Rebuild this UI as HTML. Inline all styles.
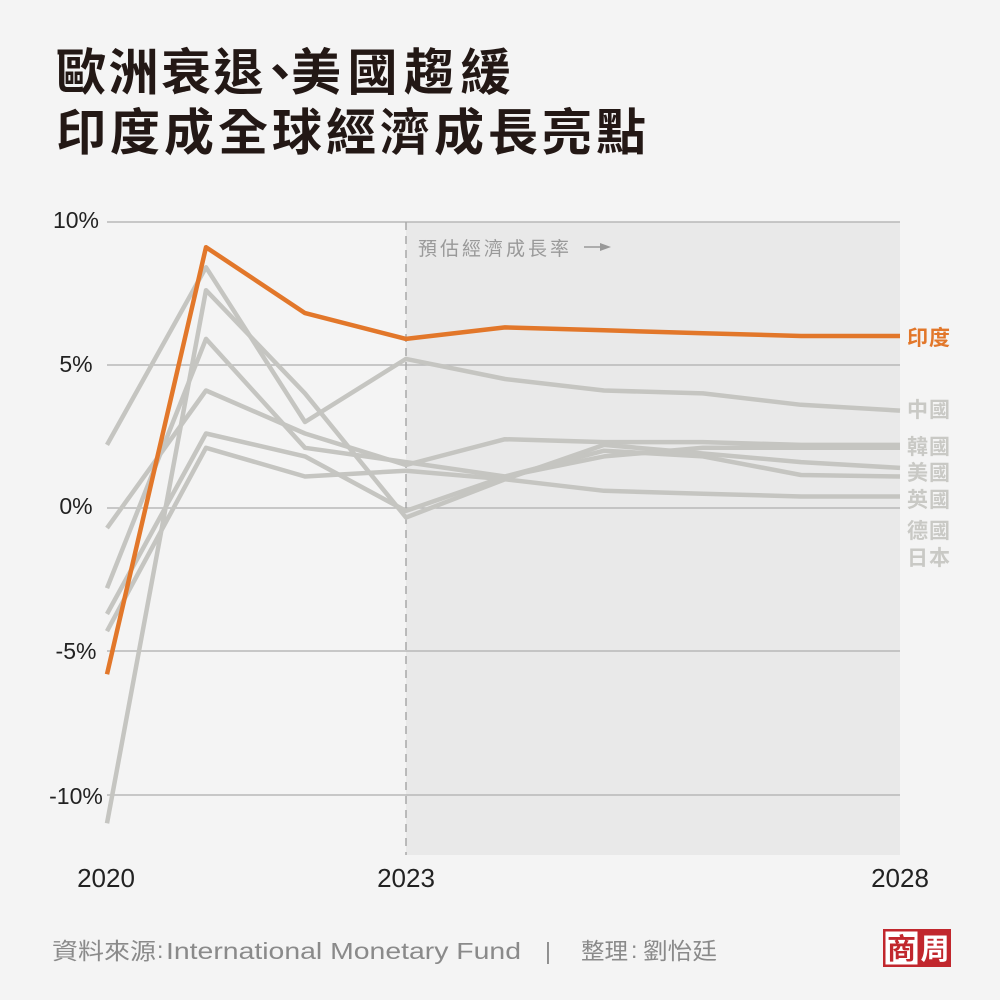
<!DOCTYPE html>
<html><head><meta charset="utf-8"><style>
html,body{margin:0;padding:0;background:#f4f4f4;}
svg{display:block;}
</style></head><body>
<svg width="1000" height="1000" viewBox="0 0 1000 1000" xmlns="http://www.w3.org/2000/svg">
<rect width="1000" height="1000" fill="#f4f4f4"/>
<g font-family="'Liberation Sans','Noto Sans CJK TC',sans-serif" font-weight="bold" font-size="50" fill="#231815">
<text x="56" y="90" letter-spacing="2.5">歐洲衰退</text>
<text x="255" y="90">、</text>
<text x="291" y="90" letter-spacing="6.5">美國趨緩</text>
<text x="56" y="150" letter-spacing="4">印度成全球經濟成長亮點</text>
</g>
<rect x="406" y="222" width="494" height="633" fill="#e9e9e9"/>
<g stroke="#b8b8b8" stroke-width="1.5">
<line x1="107" y1="222" x2="900" y2="222"/>
<line x1="107" y1="365" x2="900" y2="365"/>
<line x1="107" y1="508" x2="900" y2="508"/>
<line x1="107" y1="651" x2="900" y2="651"/>
<line x1="107" y1="795" x2="900" y2="795"/>
</g>
<line x1="406" y1="222" x2="406" y2="855" stroke="#a8a8a8" stroke-width="1.5" stroke-dasharray="8 6"/>
<g font-family="'Liberation Sans',sans-serif" font-size="23" fill="#222" text-anchor="middle">
<text x="76" y="228">10%</text>
<text x="76" y="372">5%</text>
<text x="76" y="514">0%</text>
<text x="76" y="659">-5%</text>
<text x="76" y="804">-10%</text>
</g>
<text x="418" y="255" font-family="'Liberation Sans','Noto Sans CJK TC',sans-serif" font-size="19" fill="#999999" letter-spacing="3">預估經濟成長率</text>
<line x1="584" y1="247" x2="602" y2="247" stroke="#999999" stroke-width="1.5"/>
<polygon points="600,243 611,247 600,251" fill="#999999"/>
<g fill="none" stroke="#c5c5c1" stroke-width="4.5" stroke-linejoin="round">
<polyline points="107,444.9 206,267.3 305,422 406,358.9 505,379 604,390.5 703,393.4 801,404.8 900,410.6"/>
<polyline points="107,528.1 206,390.5 305,433.5 406,465 505,439.2 604,442.1 703,442.1 801,444.9 900,444.9"/>
<polyline points="107,588.2 206,338.9 305,447.8 406,462.1 505,476.5 604,456.4 703,447.8 801,447.8 900,447.8"/>
<polyline points="107,823.3 206,290.2 305,393.4 406,517.5 505,479.3 604,444.9 703,453.5 801,462.1 900,467.9"/>
<polyline points="107,614 206,433.5 305,456.4 406,510.9 505,476.5 604,450.7 703,456.4 801,475 900,476.5"/>
<polyline points="107,631.2 206,447.8 305,476.5 406,470.7 505,479.3 604,490.8 703,493.7 801,496.5 900,496.5"/>
</g>
<polyline points="107,674.2 206,247.2 305,313.1 406,338.9 505,327.4 604,330.3 703,333.2 801,336 900,336" fill="none" stroke="#e2772a" stroke-width="4.5" stroke-linejoin="round"/>
<g font-family="'Liberation Sans','Noto Sans CJK TC',sans-serif" font-size="21" font-weight="bold" letter-spacing="1">
<text x="907" y="345" fill="#e2772a">印度</text>
<g fill="#c9c9c5">
<text x="907" y="417">中國</text>
<text x="907" y="454">韓國</text>
<text x="907" y="480">美國</text>
<text x="907" y="507">英國</text>
<text x="907" y="538">德國</text>
<text x="907" y="565">日本</text>
</g>
</g>
<g font-family="'Liberation Sans',sans-serif" font-size="26" fill="#222" text-anchor="middle">
<text x="106" y="887">2020</text>
<text x="406" y="887">2023</text>
<text x="900" y="887">2028</text>
</g>
<g font-family="'Liberation Sans','Noto Sans CJK TC',sans-serif" font-size="23" fill="#8a8a8a">
<text x="52" y="959" textLength="104" lengthAdjust="spacingAndGlyphs">資料來源</text>
<text x="157" y="958">:</text>
<text x="166" y="959" textLength="355" lengthAdjust="spacingAndGlyphs">International Monetary Fund</text>
<text x="545" y="959">|</text>
<text x="581" y="959" textLength="47" lengthAdjust="spacingAndGlyphs">整理</text>
<text x="631" y="958">:</text>
<text x="643" y="959" textLength="74" lengthAdjust="spacingAndGlyphs">劉怡廷</text>
</g>
<rect x="883" y="929" width="68" height="38" fill="#c1272d"/>
<rect x="885.5" y="931.5" width="32" height="33" fill="#ffffff"/>
<g font-family="'Noto Sans CJK TC',sans-serif" font-size="29" font-weight="bold" text-anchor="middle">
<text x="901.5" y="959" fill="#c1272d">商</text>
<text x="935" y="959" fill="#ffffff">周</text>
</g>
</svg>
</body></html>
